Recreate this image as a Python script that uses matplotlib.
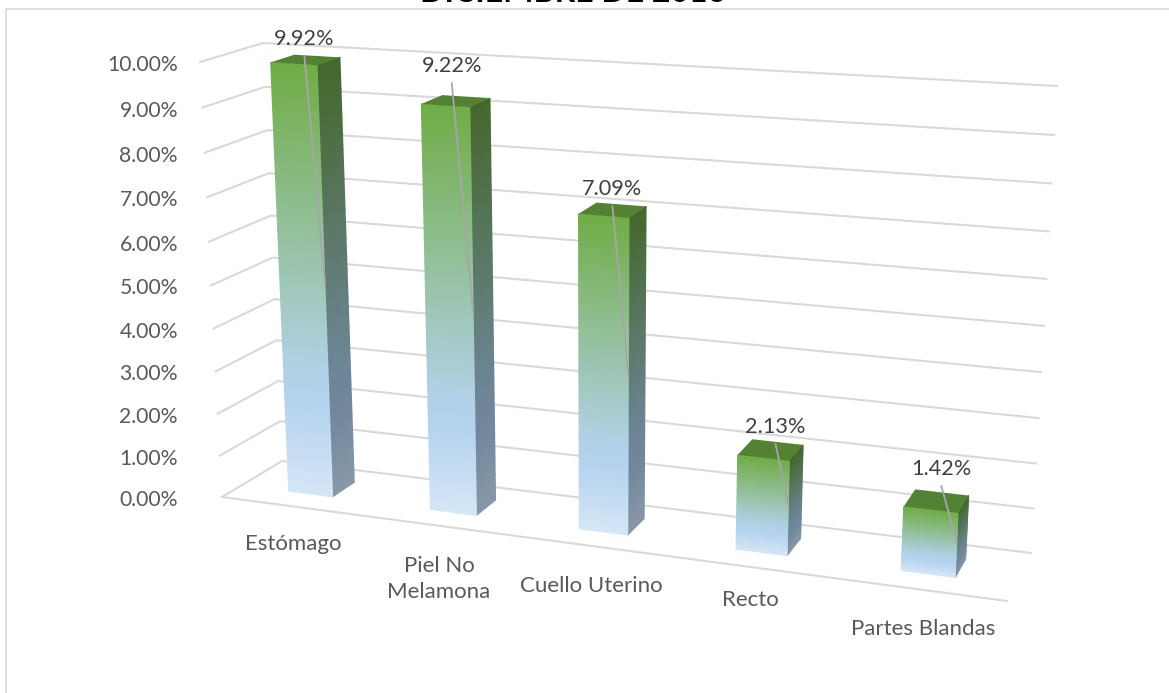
import matplotlib
matplotlib.use("Agg")
import matplotlib.pyplot as plt
from matplotlib.colors import LinearSegmentedColormap
import numpy as np

categories = ["Estómago", "Piel No\nMelamona", "Cuello Uterino", "Recto", "Partes Blandas"]
values = [9.92, 9.22, 7.09, 2.13, 1.42]
value_labels = ["9.92%", "9.22%", "7.09%", "2.13%", "1.42%"]
ticks = [0, 1, 2, 3, 4, 5, 6, 7, 8, 9, 10]
tick_labels = ["0.00%", "1.00%", "2.00%", "3.00%", "4.00%", "5.00%",
               "6.00%", "7.00%", "8.00%", "9.00%", "10.00%"]

plt.rcParams['font.family'] = ['Lato', 'DejaVu Sans']

# corners of the 3d box in pixels: (front/back, left/right, bottom/top)
FLB, FLT = np.array([222., 497.]), np.array([200., 62.])
FRB, FRT = np.array([1007., 601.]), np.array([1031., 115.])
BLB, BLT = np.array([282., 461.]), np.array([263., 43.])
BRB, BRT = np.array([1031., 553.]), np.array([1057., 86.])
K_X = 1.138  # perspective along categories
K_V = 1.055  # perspective along values
MAX_V = 10.0
BAR_W = 0.063
D_FRONT, D_BACK = 0.33, 0.72


def warp(t, k):
    return t / (k - (k - 1) * t)


def project(u, v, d):
    s = warp(u, K_X)
    t = warp(v / MAX_V, K_V)
    front = (1 - s) * ((1 - t) * FLB + t * FLT) + s * ((1 - t) * FRB + t * FRT)
    back = (1 - s) * ((1 - t) * BLB + t * BLT) + s * ((1 - t) * BRB + t * BRT)
    return (1 - d) * front + d * back


def gradient_quad(ax, u0, d0, u1, d1, v, cmap):
    # vertical strip from floor to the value, coloured along its height
    hs = np.linspace(0, v, 30)
    X, Y, C = [], [], []
    for h in hs:
        p0, p1 = project(u0, h, d0), project(u1, h, d1)
        X.append([p0[0], p1[0]])
        Y.append([p0[1], p1[1]])
        C.append([h / v, h / v])
    ax.pcolormesh(np.array(X), np.array(Y), np.array(C), cmap=cmap,
                  vmin=0, vmax=1, shading='gouraud', zorder=3)


front_cmap = LinearSegmentedColormap.from_list("front", [
    (0, "#D6E6F6"), (0.22, "#B4D2EE"), (0.3, "#B2D1E6"), (1, "#70AD47")])
side_cmap = LinearSegmentedColormap.from_list("side", [
    (0, "#8898A8"), (0.22, "#70869C"), (0.3, "#6E8698"), (1, "#44682C")])

fig = plt.figure(figsize=(11.69, 6.93), dpi=100)
ax = fig.add_axes([0, 0, 1, 1])
ax.set_xlim(0, 1169)
ax.set_ylim(693, 0)
ax.axis("off")

# chart border
ax.plot([6, 6, 1169], [693, 9, 9], color="#D9D9D9", lw=1.2, zorder=1)

# the title is cut by the top of the picture, as in the source
ax.text(573, 2, "DICIEMBRE DE 2016", ha="center", va="baseline", fontsize=23,
        fontweight="bold", color="black", clip_on=True)

# gridlines on the side wall and the back wall
for v, lab in zip(ticks, tick_labels):
    a, b, c = project(0, v, 0), project(0, v, 1), project(1, v, 1)
    ax.plot([a[0], b[0], c[0]], [a[1], b[1], c[1]], color="#D9D9D9", lw=1.5, zorder=2)
    ax.text(178, a[1] + 3, lab, ha="right", va="center",
            fontsize=15.2, color="#595959")

# front edge of the floor
a, b = project(0, 0, 0), project(1, 0, 0)
ax.plot([a[0], b[0]], [a[1], b[1]], color="#D9D9D9", lw=1.5, zorder=2)

# data label offsets from the centre of each bar top
label_offset = [(-1, -21), (-4, -35), (0, -21), (5, -23), (5, -32)]

n = len(categories)
for i, (v, lab) in enumerate(zip(values, value_labels)):
    uc = (i + 0.5) / n
    u0, u1 = uc - BAR_W / 2, uc + BAR_W / 2
    gradient_quad(ax, u1, D_FRONT, u1, D_BACK, v, side_cmap)
    gradient_quad(ax, u0, D_FRONT, u1, D_FRONT, v, front_cmap)
    top = np.array([project(u0, v, D_FRONT), project(u1, v, D_FRONT),
                    project(u1, v, D_BACK), project(u0, v, D_BACK)])
    ax.fill(top[:, 0], top[:, 1], color="#548235", lw=0, zorder=4)

    # data label with its leader line
    c = project(uc, v, (D_FRONT + D_BACK) / 2)
    end = project(u1, v / 2, D_FRONT)
    lx, ly = c[0] + label_offset[i][0], c[1] + label_offset[i][1]
    ax.plot([lx, end[0]], [ly + 17, end[1] - 4], color="#A6A6A6", lw=1.3, zorder=5)
    ax.text(lx, ly, lab, ha="center", va="center", fontsize=15.6, color="#404040", zorder=6)

# category labels sit below the front edge
label_xy = [(293, 544), (439, 579), (591, 586), (750, 600), (923, 629)]
for cat, (x, y) in zip(categories, label_xy):
    ax.text(x, y, cat, ha="center", va="center", fontsize=16, color="#595959",
            linespacing=1.4)

fig.savefig("out.png", dpi=100)
